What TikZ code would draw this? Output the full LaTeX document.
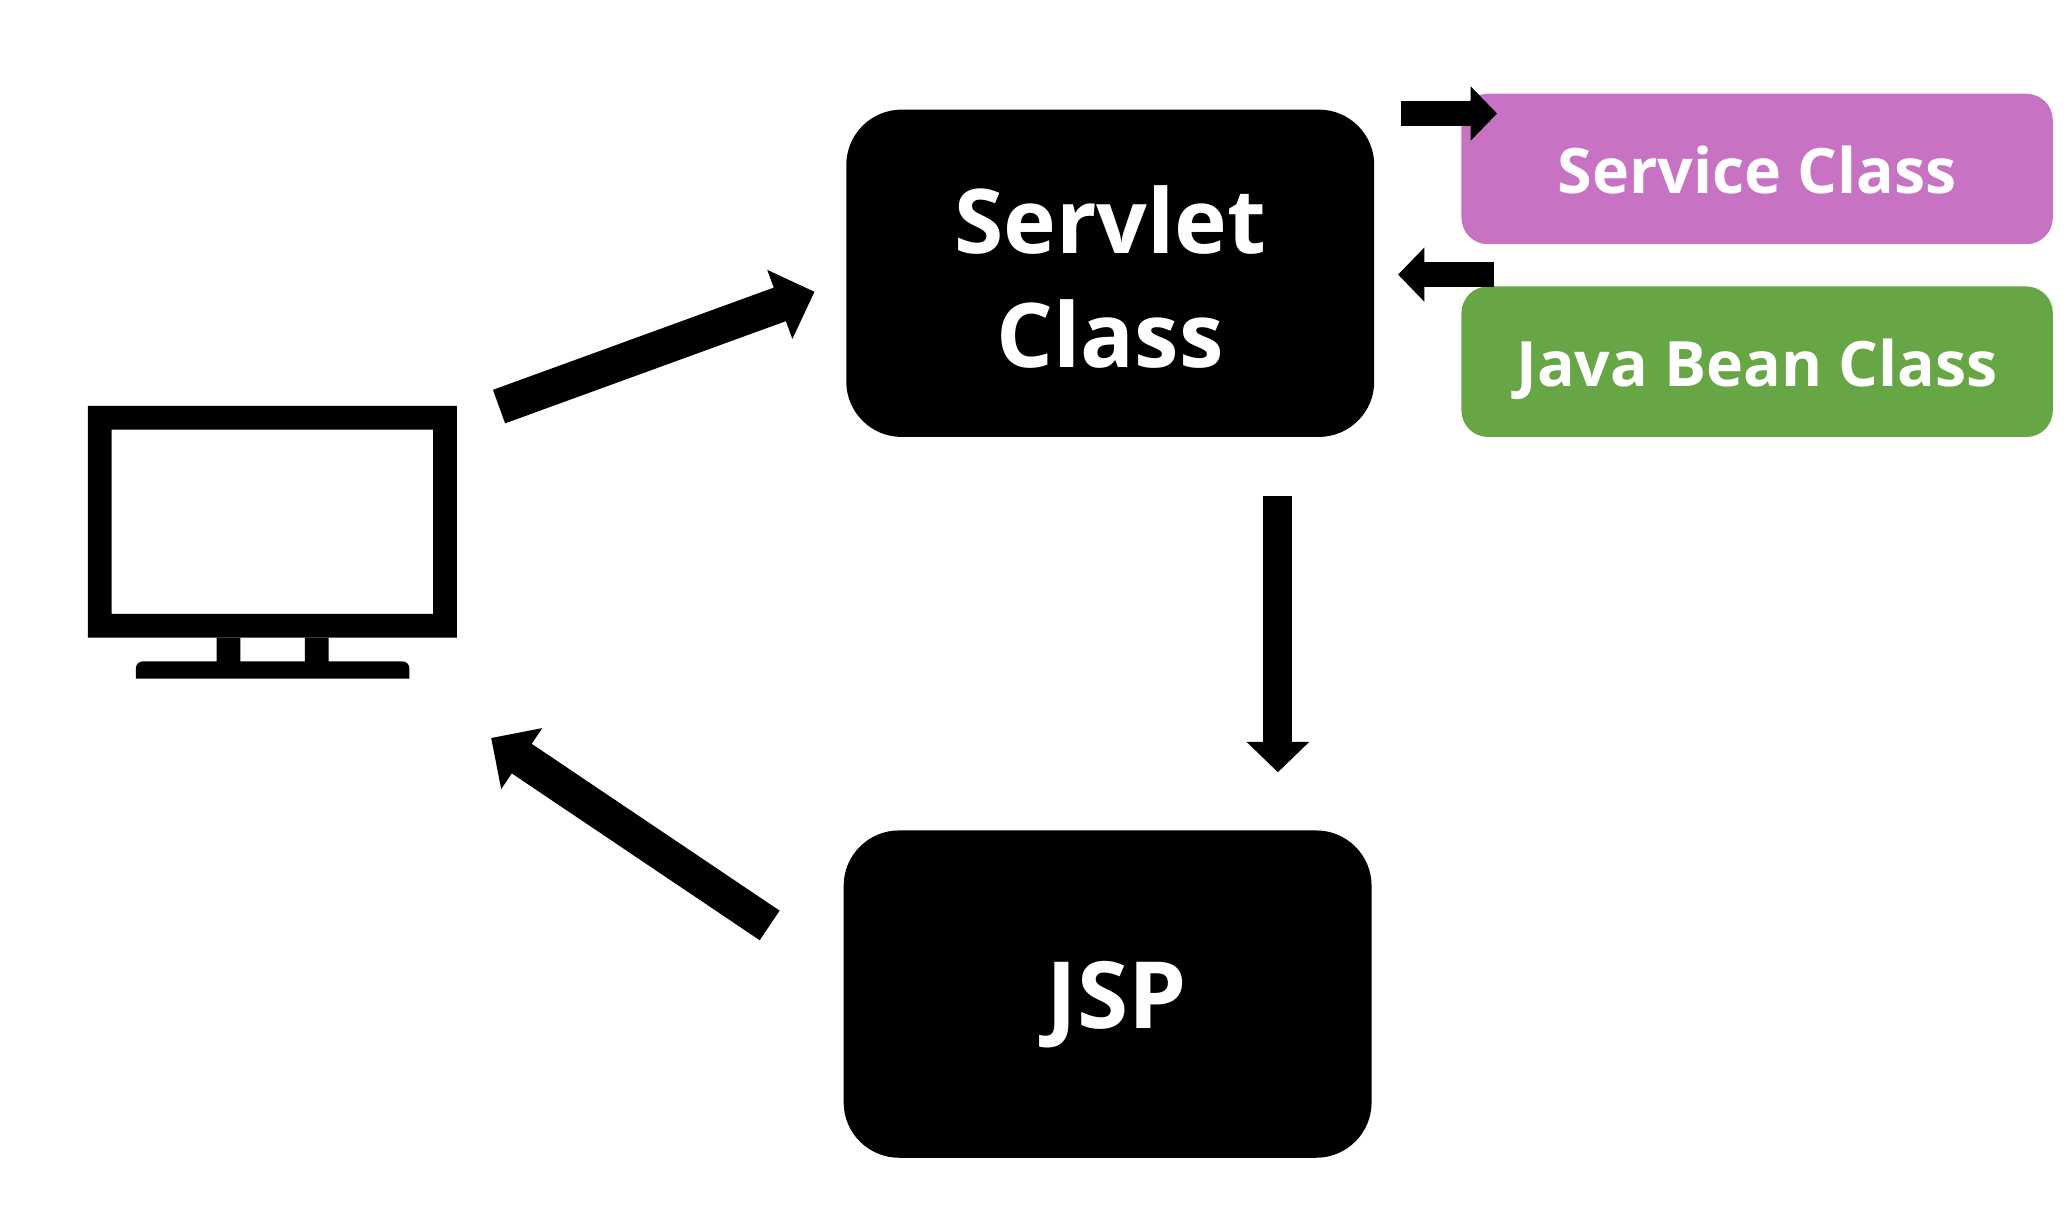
\documentclass[tikz,border=0pt]{standalone}
\usepackage{fontspec}
\setmainfont{Open Sans}
\usetikzlibrary{arrows.meta}
\definecolor{pinkbox}{HTML}{C872C3}
\definecolor{greenbox}{HTML}{66A644}
\tikzset{
  box/.style={rounded corners=#1, anchor=center, inner sep=0pt, text=white, align=center},
  bigfont/.style={font=\fontsize{38.5}{48.9}\selectfont\bfseries},
  jspfont/.style={font=\fontsize{40}{48}\selectfont\bfseries, text height=29.6pt, text depth=0pt},
  midfont/.style={font=\fontsize{27}{34}\selectfont\bfseries, text height=21.5pt, text depth=0pt},
  bigarrow/.style={draw=black, line width=0.54cm, -{Triangle[width=1.08cm,length=0.56cm]}},
  midarrow/.style={draw=black, line width=0.44cm, -{Triangle[width=0.92cm,length=0.46cm]}},
  smallarrow/.style={draw=black, line width=0.38cm, -{Triangle[width=0.8cm,length=0.4cm]}}
}
\begin{document}
\begin{tikzpicture}[x=0.02cm,y=-0.02cm]
\useasboundingbox (0,0) rectangle (1568,916.6);
% boxes
\node[box=0.84cm, fill=black, minimum width=8cm, minimum height=4.96cm, bigfont] (servlet) at (841,207)
  {\rule{0pt}{32.3pt}Servlet\\Class};
\node[box=0.84cm, fill=black, minimum width=8cm, minimum height=4.96cm, jspfont] (jsp) at (839,753)
  {\hspace*{8pt}JSP};
\node[box=0.4cm, fill=pinkbox, minimum width=8.96cm, minimum height=2.28cm, midfont] (service) at (1331,128)
  {Service Class};
\node[box=0.4cm, fill=greenbox, minimum width=8.96cm, minimum height=2.28cm, midfont] (bean) at (1331,274)
  {Java Bean Class};
% monitor
\path[fill=black, even odd rule] (66.5,307.5) rectangle (346,483) (84.5,325.5) rectangle (328,465);
\fill[black] (164,483) rectangle (182,503) (231,483) rectangle (249,503);
\fill[black] (103,514) -- (103,506) arc[start angle=180,end angle=270,radius=5] -- (305,501) arc[start angle=270,end angle=360,radius=5] -- (310,514) -- cycle;
\coordinate (pcout) at (378,308);
\coordinate (servin) at (617,221);
\coordinate (jspout) at (583,701);
\coordinate (pcin) at (372,559);
\coordinate (servout) at (1061,86);
\coordinate (svcin) at (1134,86);
\coordinate (beanout) at (1132,208);
\coordinate (servret) at (1059,208);
\coordinate (servdown) at (968,376);
\coordinate (jspin) at (968,585);
\draw[bigarrow] (pcout) -- (servin);
\draw[bigarrow] (jspout) -- (pcin);
\draw[midarrow] (servdown) -- (jspin);
\draw[smallarrow] (servout) -- (svcin);
\draw[smallarrow] (beanout) -- (servret);
\end{tikzpicture}
\end{document}
